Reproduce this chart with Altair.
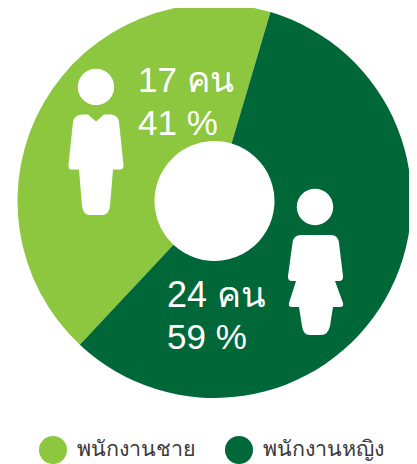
import math
import altair as alt
import pandas as pd

categories = ["พนักงานชาย", "พนักงานหญิง"]
arc_share = [42.6, 57.4]          # slice sizes as drawn in the picture
count_labels = ["17 คน", "24 คน"]
percent_labels = ["41 %", "59 %"]
colors = ["#8DC63F", "#006838"]

W, H = 401, 456
OX, OY = 8, 8
CX, CY = 214.5 - OX, 201 - OY
START = math.radians(16.5)


def icon(cmds, cx, cy):
    out = []
    for c in cmds:
        op, pts = c[0], c[1:]
        vals = []
        for i in range(0, len(pts), 2):
            vals += [f"{(pts[i]-cx)/100:.3f}", f"{(pts[i+1]-cy)/100:.3f}"]
        out.append(op + " ".join(vals))
    return " ".join(out) + " Z"


def head(cx, cy, r=18.2):
    return (f"M{-r/100:.3f} 0 A{r/100:.3f} {r/100:.3f} 0 1 1 {r/100:.3f} 0 "
            f"A{r/100:.3f} {r/100:.3f} 0 1 1 {-r/100:.3f} 0 Z ")


MAN = head(0, 0) + icon([
    ("M", 82, 114.5), ("L", 88, 114.5), ("L", 96, 121.5), ("L", 104, 114.5), ("L", 111, 114.5),
    ("Q", 118, 115, 119, 122), ("L", 123.5, 165), ("Q", 124, 169, 120, 169.5), ("L", 113, 169.5),
    ("L", 110, 206), ("Q", 109, 215, 102, 215), ("L", 90, 215), ("Q", 83, 215, 82, 206),
    ("L", 79, 169.5), ("L", 71, 169.5), ("Q", 68, 169, 68.5, 165), ("L", 73, 122), ("Q", 74, 115, 82, 114.5),
], 96, 87)

WOMAN = head(0, 0) + icon([
    ("M", 301, 235), ("L", 331, 235), ("Q", 338, 235, 339, 243), ("L", 343, 276),
    ("Q", 343.5, 281, 339, 281), ("L", 335, 281), ("L", 343, 303), ("Q", 344, 307, 340, 307),
    ("L", 333, 307), ("L", 330, 326), ("Q", 328, 335, 321, 335), ("L", 310, 335),
    ("Q", 303, 335, 302, 326), ("L", 299, 307), ("L", 292, 307), ("Q", 288, 307, 289, 303),
    ("L", 296, 281), ("L", 292, 281), ("Q", 287.5, 281, 288, 276), ("L", 292.5, 243), ("Q", 293.5, 235, 301, 235),
], 315, 207)

df = pd.DataFrame({"cat": categories, "share": arc_share, "ord": [1, 0]})

arc = alt.Chart(df).mark_arc(innerRadius=60, outerRadius=197, strokeWidth=0).encode(
    x=alt.value(CX), y=alt.value(CY),
    theta=alt.Theta("share:Q", stack=True,
                    scale=alt.Scale(domain=[0, 100], range=[START, START + 2 * math.pi])),
    order=alt.Order("ord:Q"),
    color=alt.Color("cat:N", scale=alt.Scale(domain=categories, range=colors),
                    legend=alt.Legend(
                        title=None, orient="none", legendX=53 - 14 - OX, legendY=436 - OY,
                        direction="horizontal", columns=2, symbolType="circle", symbolSize=784,
                        symbolStrokeWidth=0, labelFont="Liberation Sans", labelFontSize=21.5,
                        labelColor="#3a3a3a", labelOffset=10, columnPadding=29, labelLimit=200)),
)


def label(txt, x, y, size=35):
    return alt.Chart(pd.DataFrame({"t": [txt]})).mark_text(
        font="Liberation Sans", fontSize=size, color="white", align="left", baseline="alphabetic"
    ).encode(text="t:N", x=alt.value(x - OX), y=alt.value(y - OY))


def figure(path, x, y):
    return alt.Chart(pd.DataFrame({"a": [0]})).mark_point(
        shape=path, size=40000, filled=True, fill="white", opacity=1, strokeWidth=0
    ).encode(x=alt.value(x - OX), y=alt.value(y - OY))


chart = alt.layer(
    arc,
    figure(MAN, 96, 87),
    figure(WOMAN, 315, 207),
    label(count_labels[0], 138, 92),
    label(percent_labels[0], 138, 135),
    label(count_labels[1], 167, 307, 36),
    label(percent_labels[1], 167, 349),
).properties(width=W, height=H, padding=0, autosize=alt.AutoSizeParams(type="none")
).configure_view(stroke=None)

chart.save("out.html", embed_options={"renderer": "svg", "actions": False})
